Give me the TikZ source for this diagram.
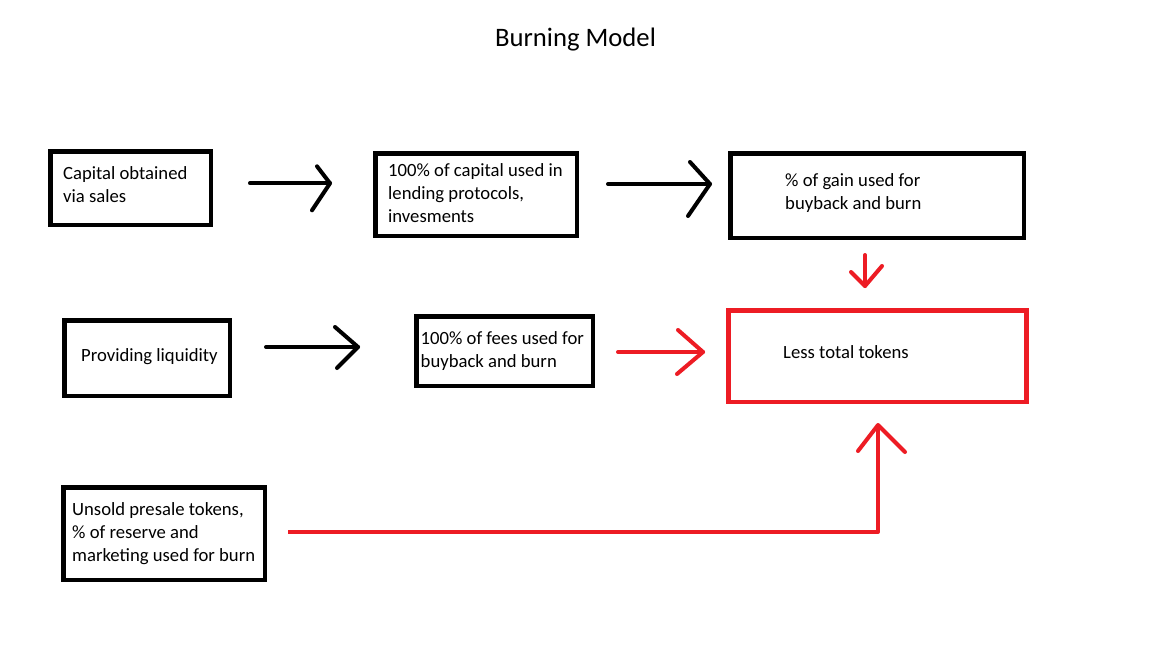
\documentclass[tikz,border=0pt]{standalone}
\usepackage{fontspec}
\setmainfont{Carlito}
\definecolor{pred}{RGB}{237,28,36}
\begin{document}
\begin{tikzpicture}[x=1pt,y=-1pt,
  box/.style={draw=black, line width=4.5pt, inner sep=0pt, fill=none},
  redbox/.style={box, draw=pred},
  txt/.style={anchor=north west, inner sep=0pt, align=left, font=\fontsize{18.67}{23}\selectfont},
  blk/.style={draw=black, line width=4pt, line cap=round, line join=round},
  rdl/.style={draw=pred, line width=4pt, line cap=round, line join=round}]
\useasboundingbox[fill=white] (0,0) rectangle (1156,657);
\newcommand{\fs}{\rule{0pt}{16pt}}
% title
\node[anchor=base, inner sep=0pt, font=\fontsize{26.67}{32}\selectfont] (title) at (575.5,46.7) {Burning Model};
% boxes
\node[box, minimum width=160.5pt, minimum height=73.5pt] (b1) at (130.5,188) {};
\node[box, minimum width=201.5pt, minimum height=82.5pt] (b2) at (476,194.5) {};
\node[box, minimum width=293.5pt, minimum height=84.5pt] (b3) at (877,195.5) {};
\node[redbox, minimum width=298pt, minimum height=91.5pt] (b4) at (877.25,356) {};
\node[box, minimum width=165.5pt, minimum height=75.5pt] (b5) at (147,358) {};
\node[box, minimum width=176.5pt, minimum height=69.5pt] (b6) at (504.5,351) {};
\node[box, minimum width=201.5pt, minimum height=92.5pt] (b7) at (164,533.5) {};
% texts
\node[txt] (t1) at (63,163.3) {\fs Capital obtained\\via sales};
\node[txt] (t2) at (388,160) {\fs 100\% of capital used in\\lending protocols,\\invesments};
\node[txt] (t3) at (785,170) {\fs \% of gain used for\\buyback and burn};
\node[txt] (t4) at (783,342.5) {\fs Less total tokens};
\node[txt] (t5) at (81,345.7) {\fs Providing liquidity};
\node[txt] (t6) at (420.5,328) {\fs 100\% of fees used for\\buyback and burn};
\node[txt] (t7) at (72,499) {\fs Unsold presale tokens,\\\% of reserve and\\marketing used for burn};
% connector ends
\coordinate (a1s) at (250,183.3); \coordinate (a1e) at (330,183.3);
\coordinate (a2s) at (608,184); \coordinate (a2e) at (710,184);
\coordinate (a3s) at (865,255); \coordinate (a3e) at (865,286);
\coordinate (a4s) at (266,347); \coordinate (a4e) at (358,347);
\coordinate (a5s) at (618,352); \coordinate (a5e) at (703,352);
\coordinate (a6s) at (288,532); \coordinate (a6k) at (878,532); \coordinate (a6e) at (878,425);
% black arrows
\draw[blk] (a1s) -- (a1e);
\draw[blk] (a1e) ++(-13,-17) -- (a1e) -- ++(-18,27);
\draw[blk] (a2s) -- (a2e);
\draw[blk] (a2e) ++(-20,-22) -- (a2e) -- ++(-22,32);
\draw[blk] (a4s) -- (a4e);
\draw[blk] (a4e) ++(-23,-20) -- (a4e) -- ++(-21,21);
% red arrows
\draw[rdl] (a3s) -- (a3e);
\draw[rdl] (a3e) ++(-14,-14) -- (a3e) -- ++(17,-20);
\draw[rdl] (a5s) -- (a5e);
\draw[rdl] (a5e) ++(-25,-22) -- (a5e) -- ++(-26,22);
\draw[rdl, line cap=butt] (a6s) -- (a6k) -- (a6e);
\draw[rdl] (a6e) ++(-20,26) -- (a6e) -- ++(27,27);
\end{tikzpicture}
\end{document}
